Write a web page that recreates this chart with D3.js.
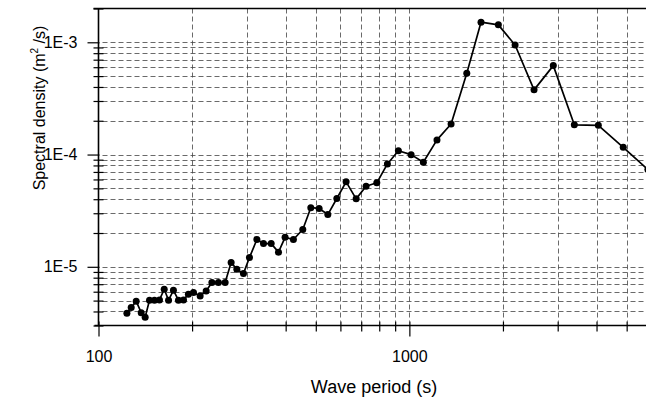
<!DOCTYPE html>
<html>
<head>
<meta charset="utf-8">
<script src="https://cdn.jsdelivr.net/npm/d3@7"></script>
<style>
  html, body { margin: 0; padding: 0; background: #fff; }
  svg { display: block; font-family: "Liberation Sans", Arial, Helvetica, sans-serif; }
</style>
</head>
<body>
<svg id="chart" width="646" height="400"></svg>
<script>
// ---- data ----
const periods = [123.4,127.4,132.2,137.2,141.3,145.9,151.4,157.1,162.7,168.0,
  174.2,180.8,187.7,194.6,202.1,212.3,222.0,231.6,243.1,255.5,
  267.1,278.6,292.6,305.9,323.2,339.4,359.3,379.3,398.3,423.6,
  454.1,481.9,512.5,546.6,584.3,625.9,674.2,725.6,785.7,849.9,
  921.8,1013,1109,1227,1362,1530,1700,1933,2188,2518,
  2904,3393,4053,4875,5850];
const density = [3.86e-6,4.34e-6,4.94e-6,3.90e-6,3.56e-6,5.04e-6,5.04e-6,5.07e-6,6.31e-6,5.04e-6,
  6.18e-6,5.04e-6,5.07e-6,5.70e-6,5.90e-6,5.50e-6,6.10e-6,7.24e-6,7.24e-6,7.24e-6,
  1.09e-5,9.5e-6,8.7e-6,1.21e-5,1.75e-5,1.61e-5,1.61e-5,1.35e-5,1.83e-5,1.75e-5,
  2.15e-5,3.36e-5,3.31e-5,2.92e-5,4.06e-5,5.71e-5,4.03e-5,5.22e-5,5.60e-5,8.25e-5,
  1.08e-4,9.98e-5,8.53e-5,1.35e-4,1.87e-4,5.31e-4,1.51e-3,1.43e-3,9.46e-4,3.77e-4,
  6.20e-4,1.84e-4,1.82e-4,1.16e-4,7.34e-5];

const xMajorTicks = [100, 1000];
const xMajorLabels = ["100", "1000"];
const xMinorTicks = [200,300,400,500,600,700,800,900,2000,3000,4000,5000];
const yMajorTicks = [1e-3, 1e-4, 1e-5];
const yMajorLabels = ["1E-3", "1E-4", "1E-5"];
const yMinorTicks = [3e-6,4e-6,5e-6,6e-6,7e-6,8e-6,9e-6,
  2e-5,3e-5,4e-5,5e-5,6e-5,7e-5,8e-5,9e-5,
  2e-4,3e-4,4e-4,5e-4,6e-4,7e-4,8e-4,9e-4,2e-3];
const xDomain = [100, 5770];
const yDomain = [3e-6, 2e-3];
const xTitle = "Wave period (s)";

// ---- layout ----
const L = 98.5, R = 646, T = 8.5, B = 325.5;
const svg = d3.select("#chart");
const x = d3.scaleLog().domain(xDomain).range([L, R]);
const y = d3.scaleLog().domain(yDomain).range([B, T]);

svg.append("defs").append("clipPath").attr("id", "plotclip")
  .append("rect").attr("x", L).attr("y", T).attr("width", R - L).attr("height", B - T);

// ---- grid ----
const grid = svg.append("g").attr("stroke", "#444").attr("stroke-width", 0.8)
  .attr("stroke-dasharray", "5,3").attr("fill", "none");
const hGrid = yMinorTicks.concat(yMajorTicks).filter(v => v > yDomain[0] && v < yDomain[1]);
grid.selectAll("line.h").data(hGrid).join("line").attr("class", "h")
  .attr("x1", L + 4).attr("x2", R)
  .attr("y1", d => Math.round(y(d)) + 0.5).attr("y2", d => Math.round(y(d)) + 0.5);
const vGrid = xMinorTicks.concat([1000]);
grid.selectAll("line.v").data(vGrid).join("line").attr("class", "v")
  .attr("y1", T).attr("y2", B - 4)
  .attr("x1", d => Math.round(x(d)) + 0.5).attr("x2", d => Math.round(x(d)) + 0.5);

// ---- axes ----
const axisStyle = g => {
  g.selectAll("path.domain").remove();
  g.selectAll(".tick line").attr("stroke", "#000").attr("stroke-width", 1.2);
  g.selectAll(".tick text").attr("fill", "#000").attr("font-size", 16);
};

// x major ticks (crossing)
svg.append("g").attr("transform", `translate(0,${B - 4})`)
  .call(d3.axisBottom(x).tickValues(xMajorTicks).tickSize(15).tickPadding(14)
    .tickFormat((d, i) => xMajorLabels[i]))
  .call(axisStyle);
// x minor ticks (crossing)
svg.append("g").attr("transform", `translate(0,${B - 4})`)
  .call(d3.axisBottom(x).tickValues(xMinorTicks).tickSize(10).tickFormat(""))
  .call(axisStyle);

// y major ticks (outward)
svg.append("g").attr("transform", `translate(${L + 1},0)`)
  .call(d3.axisLeft(y).tickValues(yMajorTicks).tickSize(12).tickPadding(10)
    .tickFormat((d, i) => yMajorLabels[i]))
  .call(axisStyle);
// y minor ticks (crossing)
svg.append("g").attr("transform", `translate(${L + 5},0)`)
  .call(d3.axisLeft(y).tickValues(yMinorTicks).tickSize(10).tickFormat(""))
  .call(axisStyle);

// frame lines
svg.append("line").attr("x1", L).attr("x2", L).attr("y1", T).attr("y2", B)
  .attr("stroke", "#000").attr("stroke-width", 1.6);
svg.append("line").attr("x1", L - 4).attr("x2", R).attr("y1", B).attr("y2", B)
  .attr("stroke", "#000").attr("stroke-width", 1.6);
svg.append("line").attr("x1", L - 5).attr("x2", R).attr("y1", T).attr("y2", T)
  .attr("stroke", "#000").attr("stroke-width", 1.4);

// ---- series ----
const pts = periods.map((p, i) => [p, density[i]]);
const plot = svg.append("g").attr("clip-path", "url(#plotclip)");
plot.append("path").datum(pts)
  .attr("fill", "none").attr("stroke", "#000").attr("stroke-width", 1.7)
  .attr("stroke-linejoin", "round")
  .attr("d", d3.line().x(d => x(d[0])).y(d => y(d[1])));
plot.selectAll("circle").data(pts).join("circle")
  .attr("cx", d => x(d[0])).attr("cy", d => y(d[1])).attr("r", 3.5)
  .attr("fill", "#000");

// ---- titles ----
svg.append("text").attr("x", 374).attr("y", 393).attr("text-anchor", "middle")
  .attr("font-size", 18).attr("fill", "#000").text(xTitle);

const yt = svg.append("text").attr("transform", "translate(45,108) rotate(-90)")
  .attr("text-anchor", "middle").attr("font-size", 16).attr("fill", "#000");
yt.append("tspan").text("Spectral density (m");
yt.append("tspan").attr("font-size", 10).attr("dy", -7).text("2");
yt.append("tspan").attr("dy", 7).text(" /s)");
</script>
</body>
</html>
